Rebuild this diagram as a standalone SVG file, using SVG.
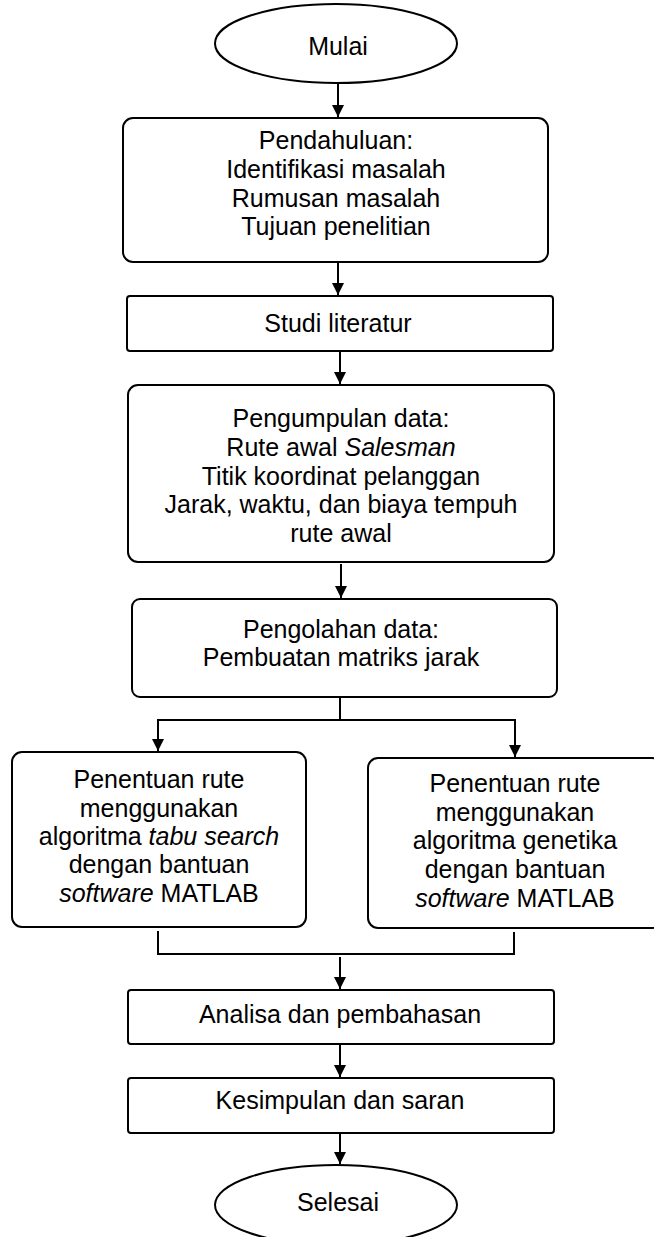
<svg xmlns="http://www.w3.org/2000/svg" width="654" height="1237" viewBox="0 0 654 1237">
<defs>
<style>
.shape{fill:#fff;stroke:#000;stroke-width:2}
.t{font-family:"Liberation Sans",Arial,sans-serif;font-size:25px;fill:#000;text-anchor:middle}
.i{font-style:italic}
.c{fill:none;stroke:#000;stroke-width:2}
</style>
<marker id="ah" markerWidth="12" markerHeight="12" refX="12" refY="6" orient="auto" markerUnits="userSpaceOnUse">
<path d="M0,0 L12,6 L0,12 Z" fill="#000"/>
</marker>
</defs>
<rect width="654" height="1237" fill="#fff"/>
<g id="connectors">
<line class="c" x1="338" y1="83" x2="338" y2="117" marker-end="url(#ah)"/>
<line class="c" x1="338" y1="262" x2="338" y2="295" marker-end="url(#ah)"/>
<line class="c" x1="340" y1="351" x2="340" y2="384" marker-end="url(#ah)"/>
<line class="c" x1="341" y1="564" x2="341" y2="598" marker-end="url(#ah)"/>
<polyline class="c" points="340,697 340,720 158,720"/>
<polyline class="c" points="340,720 515,720"/>
<line class="c" x1="158" y1="719" x2="158" y2="751" marker-end="url(#ah)"/>
<line class="c" x1="515" y1="719" x2="515" y2="757" marker-end="url(#ah)"/>
<polyline class="c" points="158,931 158,954 514,954 514,932"/>
<line class="c" x1="340" y1="957" x2="340" y2="989" marker-end="url(#ah)"/>
<line class="c" x1="340" y1="1044" x2="340" y2="1077" marker-end="url(#ah)"/>
<line class="c" x1="340" y1="1133" x2="340" y2="1164" marker-end="url(#ah)"/>
</g>
<g id="mulai">
<ellipse class="shape" cx="336" cy="43.5" rx="121" ry="39.5"/>
<text class="t" x="338" y="55">Mulai</text>
</g>
<g id="pendahuluan">
<rect class="shape" x="123" y="118" width="425" height="144" rx="10"/>
<text class="t"><tspan x="336" y="149">Pendahuluan:</tspan><tspan x="336" y="178">Identifikasi masalah</tspan><tspan x="336" y="206.5">Rumusan masalah</tspan><tspan x="336" y="235">Tujuan penelitian</tspan></text>
</g>
<g id="studi">
<rect class="shape" x="127" y="296" width="426" height="55" rx="3"/>
<text class="t" x="338" y="332">Studi literatur</text>
</g>
<g id="pengumpulan">
<rect class="shape" x="128" y="385" width="426" height="177" rx="10"/>
<text class="t"><tspan x="341" y="427">Pengumpulan data:</tspan><tspan x="341" y="456">Rute awal <tspan class="i">Salesman</tspan></tspan><tspan x="341" y="485">Titik koordinat pelanggan</tspan><tspan x="341" y="513">Jarak, waktu, dan biaya tempuh</tspan><tspan x="341" y="542">rute awal</tspan></text>
</g>
<g id="pengolahan">
<rect class="shape" x="132" y="599" width="425" height="98" rx="8"/>
<text class="t"><tspan x="341" y="638">Pengolahan data:</tspan><tspan x="341" y="666">Pembuatan matriks jarak</tspan></text>
</g>
<g id="tabu">
<rect class="shape" x="12" y="752" width="294" height="175" rx="10"/>
<text class="t"><tspan x="159" y="788">Penentuan rute</tspan><tspan x="159" y="817">menggunakan</tspan><tspan x="159" y="845">algoritma <tspan class="i">tabu search</tspan></tspan><tspan x="159" y="873">dengan bantuan</tspan><tspan x="159" y="902"><tspan class="i">software</tspan> MATLAB</tspan></text>
</g>
<g id="genetika">
<rect class="shape" x="368" y="758" width="294" height="170" rx="10"/>
<text class="t"><tspan x="515" y="792">Penentuan rute</tspan><tspan x="515" y="821">menggunakan</tspan><tspan x="515" y="849">algoritma genetika</tspan><tspan x="515" y="878">dengan bantuan</tspan><tspan x="515" y="907"><tspan class="i">software</tspan> MATLAB</tspan></text>
</g>
<g id="analisa">
<rect class="shape" x="128" y="990" width="426" height="54" rx="3"/>
<text class="t" x="340" y="1023">Analisa dan pembahasan</text>
</g>
<g id="kesimpulan">
<rect class="shape" x="128" y="1078" width="426" height="55" rx="3"/>
<text class="t" x="340" y="1109">Kesimpulan dan saran</text>
</g>
<g id="selesai">
<ellipse class="shape" cx="336" cy="1205" rx="121" ry="40"/>
<text class="t" x="338" y="1211">Selesai</text>
</g>
</svg>
